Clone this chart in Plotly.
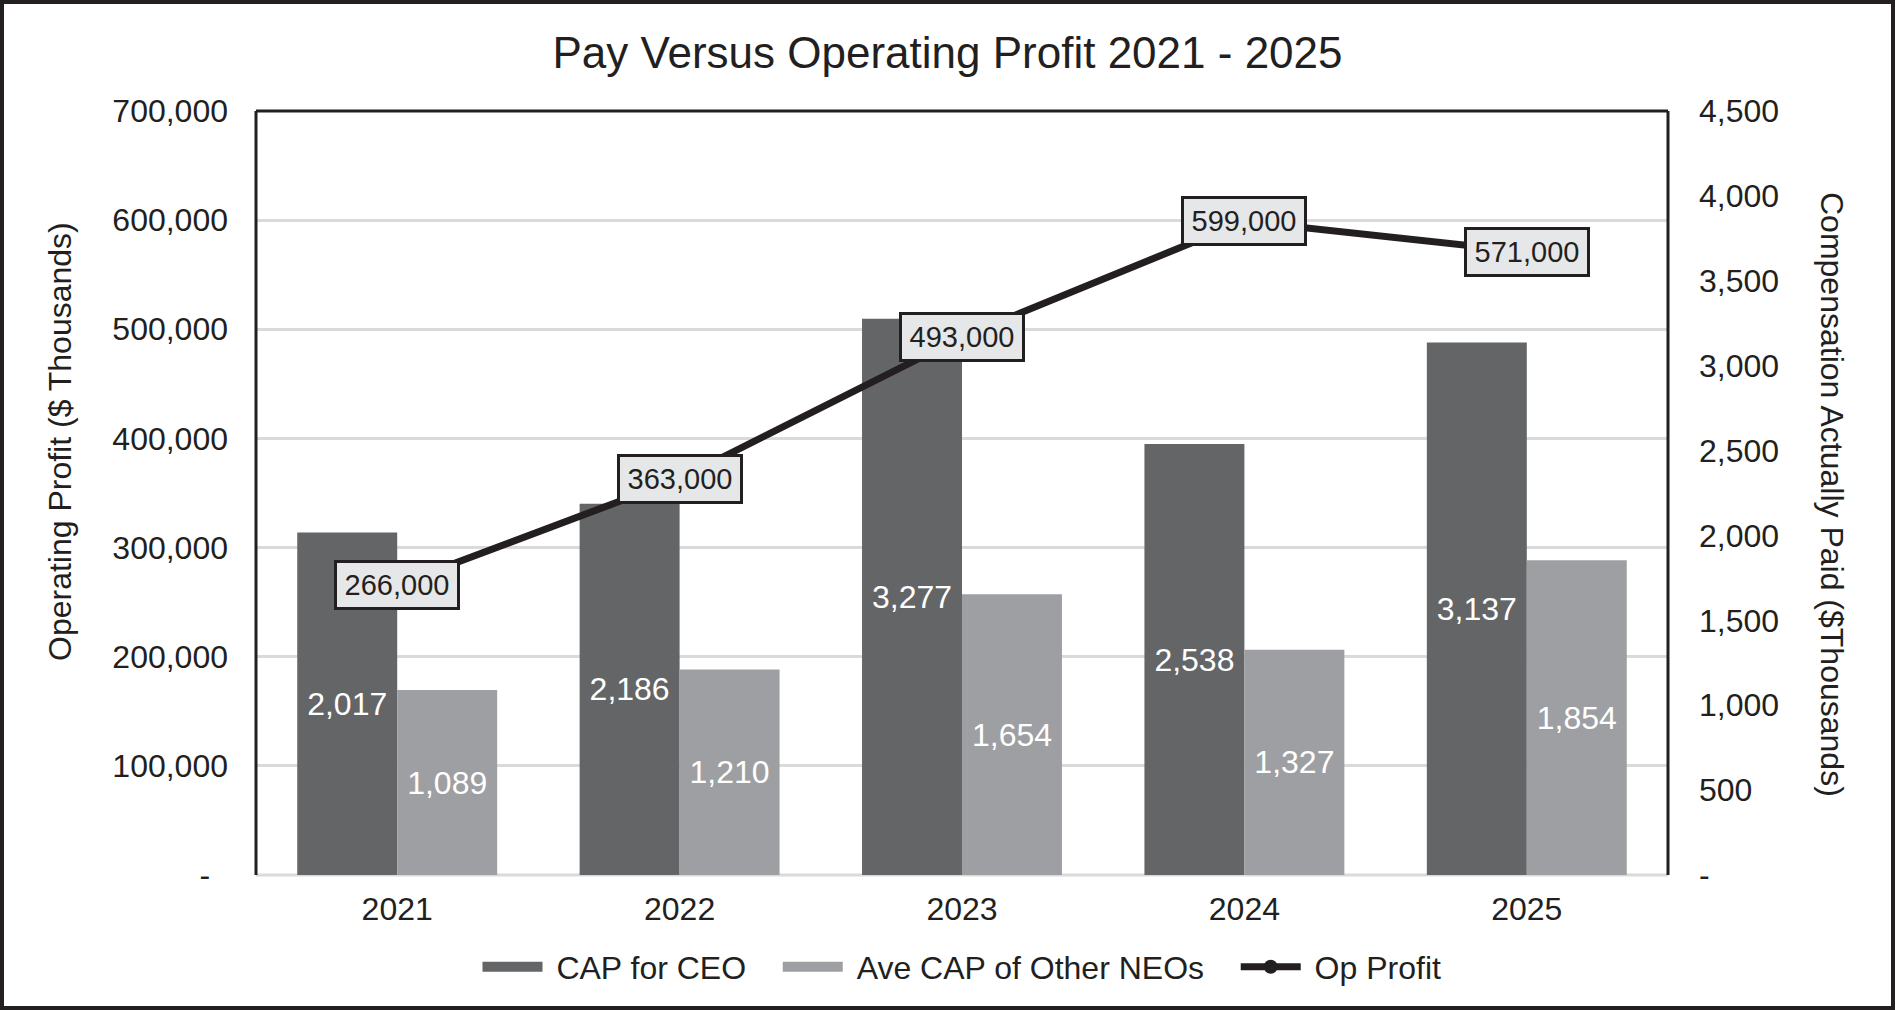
import plotly.graph_objects as go

years = ["2021", "2022", "2023", "2024", "2025"]
cap_ceo = [2017, 2186, 3277, 2538, 3137]
cap_neo = [1089, 1210, 1654, 1327, 1854]
op_profit = [266000, 363000, 493000, 599000, 571000]

left_ticks = [0, 100000, 200000, 300000, 400000, 500000, 600000, 700000]
left_ticktext = ["-\u00a0\u00a0", "100,000", "200,000", "300,000", "400,000", "500,000", "600,000", "700,000"]
right_ticks = [0, 500, 1000, 1500, 2000, 2500, 3000, 3500, 4000, 4500]
right_ticktext = ["-", "500", "1,000", "1,500", "2,000", "2,500", "3,000", "3,500", "4,000", "4,500"]

W, H = 1895, 1010
ML, MR, MT, MB = 256, 227, 111, 135
PW, PH = W - ML - MR, H - MT - MB

FONT = "Liberation Sans, Arial, sans-serif"
INK = "#231f20"
DARK = "#646567"
LIGHT = "#9e9fa2"
GRID = "#dadada"
NB = "\u00a0"

fig = go.Figure()

fig.add_trace(go.Bar(
    x=years, y=cap_ceo, name="CAP for CEO", marker=dict(color=DARK, line=dict(width=0)),
    text=[f"{v:,}" for v in cap_ceo], textposition="inside", insidetextanchor="middle",
    textangle=0, insidetextfont=dict(color="white", size=32, family=FONT),
    xaxis="x", yaxis="y", showlegend=False, offsetgroup="ceo",
))
fig.add_trace(go.Bar(
    x=years, y=cap_neo, name="Ave CAP of Other NEOs", marker=dict(color=LIGHT, line=dict(width=0)),
    text=[f"{v:,}" for v in cap_neo], textposition="inside", insidetextanchor="middle",
    textangle=0, insidetextfont=dict(color="white", size=32, family=FONT),
    xaxis="x", yaxis="y", showlegend=False, offsetgroup="neo",
))
# legend proxies (wide swatches like the reference)
fig.add_trace(go.Scatter(x=[years[0]], y=[None], mode="lines", name=NB + "CAP for CEO" + NB * 3,
                         line=dict(color=DARK, width=13), xaxis="x", yaxis="y"))
fig.add_trace(go.Scatter(x=[years[0]], y=[None], mode="lines",
                         name=NB + "Ave CAP of Other NEOs" + NB * 3,
                         line=dict(color=LIGHT, width=13), xaxis="x", yaxis="y"))
fig.add_trace(go.Scatter(
    x=years, y=op_profit, name=NB + "Op Profit", mode="lines+markers",
    line=dict(color=INK, width=7), marker=dict(color=INK, size=14, symbol="circle"),
    xaxis="x", yaxis="y2",
))

for i, v in enumerate(op_profit):
    fig.add_annotation(
        x=i, y=v, xref="x", yref="y2", text=f"{v:,}", showarrow=False,
        font=dict(size=29, color=INK, family=FONT), width=112, height=36,
        bgcolor="#e6e7e8", bordercolor=INK, borderwidth=3, borderpad=4,
    )

# axis titles as annotations
fig.add_annotation(
    x=(60 - ML) / PW, y=(H - MB - 442) / PH, xref="paper", yref="paper",
    text="Operating Profit ($ Thousands)", textangle=-90, showarrow=False,
    font=dict(size=32, color=INK, family=FONT), xanchor="center", yanchor="middle",
)
fig.add_annotation(
    x=(1832 - ML) / PW, y=(H - MB - 494) / PH, xref="paper", yref="paper",
    text="Compensation Actually Paid ($Thousands)", textangle=90, showarrow=False,
    font=dict(size=32, color=INK, family=FONT), xanchor="center", yanchor="middle",
)

shapes = []
shapes.append(dict(type="line", xref="paper", yref="paper", x0=0, x1=1, y0=0, y1=0,
                   line=dict(color=GRID, width=3), layer="below"))
shapes.append(dict(type="line", xref="paper", yref="paper", x0=0, x1=0, y0=0, y1=1,
                   line=dict(color=INK, width=3)))
shapes.append(dict(type="line", xref="paper", yref="paper", x0=1, x1=1, y0=0, y1=1,
                   line=dict(color=INK, width=3)))
shapes.append(dict(type="line", xref="paper", yref="paper", x0=0, x1=1, y0=1, y1=1,
                   line=dict(color=INK, width=3)))
bw = 4
shapes.append(dict(
    type="rect", xref="paper", yref="paper",
    x0=(bw / 2 - ML) / PW, x1=(W - bw / 2 - ML) / PW,
    y0=(-(MB - bw / 2)) / PH, y1=1 + (MT - bw / 2) / PH,
    line=dict(color=INK, width=bw), fillcolor="rgba(0,0,0,0)",
))

fig.update_layout(
    width=W, height=H,
    margin=dict(l=ML, r=MR, t=MT, b=MB, pad=0),
    paper_bgcolor="white", plot_bgcolor="white",
    font=dict(family=FONT, color=INK, size=32),
    title=dict(text="Pay Versus Operating Profit 2021 - 2025", x=0.5, xref="container",
               y=1 - 53 / H, yref="container", xanchor="center", yanchor="middle",
               font=dict(size=44, color=INK, family=FONT)),
    barmode="group", bargap=0.292, bargroupgap=0,
    xaxis=dict(type="category", categoryorder="array", categoryarray=years,
               range=[-0.5, 4.5], autorange=False,
               showgrid=False, showline=False, zeroline=False,
               tickfont=dict(size=32, color=INK), ticks="", ticklabelstandoff=12),
    yaxis=dict(side="right", range=[0, 4500], tickvals=right_ticks, ticktext=right_ticktext,
               showgrid=False, zeroline=False, showline=False, ticks="",
               tickfont=dict(size=32, color=INK), ticklabelstandoff=30),
    yaxis2=dict(side="left", overlaying="y", anchor="x", range=[0, 700000], tickvals=left_ticks,
                ticktext=left_ticktext, showgrid=True, gridcolor=GRID, gridwidth=3,
                zeroline=False, showline=False, ticks="",
                tickfont=dict(size=32, color=INK), ticklabelstandoff=27),
    legend=dict(orientation="h", x=0.5, xanchor="center", y=(875 - 967) / PH, yanchor="middle",
                font=dict(size=32, color=INK), itemwidth=60, traceorder="normal",
                bgcolor="rgba(0,0,0,0)"),
    shapes=shapes,
)

fig.write_html("out.html")
